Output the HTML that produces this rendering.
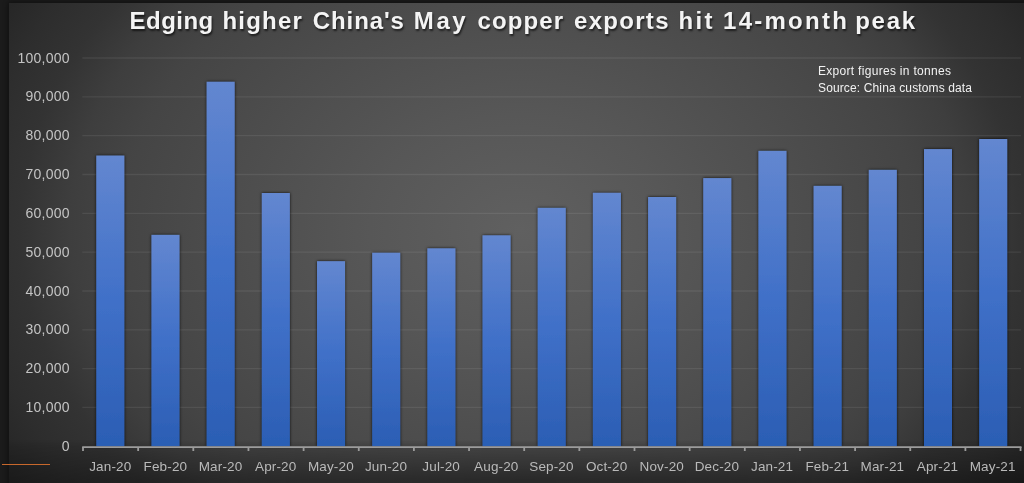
<!DOCTYPE html>
<html><head><meta charset="utf-8"><style>
html,body{margin:0;padding:0;width:1024px;height:483px;overflow:hidden;background:#1b1b1b;}
#chart{position:absolute;left:9px;top:3px;width:1040px;height:500px;
background:radial-gradient(700px 538px at 511px 227px,rgb(96,96,96) 0%,rgb(87,87,87) 21.4%,rgb(76,76,76) 42.9%,rgb(68.5,68.5,68.5) 57.1%,rgb(62,62,62) 64.3%,rgb(51,51,51) 71.4%,rgb(45,45,45) 78.6%,rgb(37,37,37) 85.7%,rgb(29,29,29) 100%);
box-shadow:0 0 5px 1px rgba(0,0,0,0.45);}
svg{position:absolute;left:0;top:0;will-change:transform;}
.g{stroke:rgba(255,255,255,0.075);stroke-width:1.3;}
.ax{stroke:#9c9c9c;stroke-width:1.8;fill:none;}
.yl{font:14px "Liberation Sans",sans-serif;letter-spacing:0.25px;fill:#c4c4c4;text-anchor:end;}
.xl{font:13.5px "Liberation Sans",sans-serif;letter-spacing:0.15px;fill:#bababa;text-anchor:middle;}
.title{will-change:transform;position:absolute;left:0;top:0;width:1024px;height:40px;font:bold 24px "Liberation Sans",sans-serif;color:#f4f4f4;text-shadow:1px 2px 2px rgba(0,0,0,0.6);white-space:nowrap;}
.title span{position:absolute;top:6.5px;transform-origin:0 0;}
.leg{will-change:transform;position:absolute;left:818px;font:12px "Liberation Sans",sans-serif;color:#f2f2f2;white-space:nowrap;}
#vig{position:absolute;left:9px;top:440px;width:1015px;height:43px;
background:linear-gradient(to right,rgba(0,0,0,0.26) 0px,rgba(0,0,0,0.26) 31px,rgba(0,0,0,0.32) 129px,rgba(0,0,0,0.39) 291px,rgba(0,0,0,0.44) 515px,rgba(0,0,0,0.40) 731px,rgba(0,0,0,0.36) 891px,rgba(0,0,0,0.33) 1015px);
-webkit-mask-image:linear-gradient(to bottom,rgba(0,0,0,0) 0px,rgba(0,0,0,0.3) 6px,rgba(0,0,0,0.5) 15px,#000 40px);mask-image:linear-gradient(to bottom,rgba(0,0,0,0) 0px,rgba(0,0,0,0.3) 6px,rgba(0,0,0,0.5) 15px,#000 40px);}
#wrap{position:absolute;left:0;top:0;width:1024px;height:483px;overflow:hidden;filter:blur(0.35px);}
#orange{position:absolute;left:2px;top:463.8px;width:47.5px;height:1.5px;background:#c8682c;}
</style></head><body>
<div id="wrap">
<div id="chart"></div>
<div id="vig"></div>
<svg width="1024" height="483" viewBox="0 0 1024 483">
<defs>
<linearGradient id="bg" x1="0" y1="0" x2="0" y2="1"><stop offset="0" stop-color="rgb(99,135,208)"/><stop offset="0.5" stop-color="rgb(64,112,200)"/><stop offset="1" stop-color="rgb(43,94,180)"/></linearGradient>
<filter id="sh" x="-20%" y="-5%" width="140%" height="110%"><feDropShadow dx="0" dy="0" stdDeviation="1.5" flood-color="#000" flood-opacity="0.85"/></filter>
</defs>
<line x1="82.3" y1="407.47" x2="1021" y2="407.47" class="g"/>
<line x1="82.3" y1="368.64" x2="1021" y2="368.64" class="g"/>
<line x1="82.3" y1="329.81" x2="1021" y2="329.81" class="g"/>
<line x1="82.3" y1="290.98" x2="1021" y2="290.98" class="g"/>
<line x1="82.3" y1="252.15" x2="1021" y2="252.15" class="g"/>
<line x1="82.3" y1="213.32" x2="1021" y2="213.32" class="g"/>
<line x1="82.3" y1="174.49" x2="1021" y2="174.49" class="g"/>
<line x1="82.3" y1="135.66" x2="1021" y2="135.66" class="g"/>
<line x1="82.3" y1="96.83" x2="1021" y2="96.83" class="g"/>
<line x1="82.3" y1="58.00" x2="1021" y2="58.00" class="g"/>
<rect x="96.30" y="155.60" width="28.0" height="290.70" fill="url(#bg)" filter="url(#sh)"/>
<rect x="151.48" y="234.90" width="28.0" height="211.40" fill="url(#bg)" filter="url(#sh)"/>
<rect x="206.66" y="81.80" width="28.0" height="364.50" fill="url(#bg)" filter="url(#sh)"/>
<rect x="261.84" y="193.00" width="28.0" height="253.30" fill="url(#bg)" filter="url(#sh)"/>
<rect x="317.02" y="261.20" width="28.0" height="185.10" fill="url(#bg)" filter="url(#sh)"/>
<rect x="372.20" y="252.80" width="28.0" height="193.50" fill="url(#bg)" filter="url(#sh)"/>
<rect x="427.38" y="248.35" width="28.0" height="197.95" fill="url(#bg)" filter="url(#sh)"/>
<rect x="482.56" y="235.35" width="28.0" height="210.95" fill="url(#bg)" filter="url(#sh)"/>
<rect x="537.74" y="207.90" width="28.0" height="238.40" fill="url(#bg)" filter="url(#sh)"/>
<rect x="592.92" y="192.85" width="28.0" height="253.45" fill="url(#bg)" filter="url(#sh)"/>
<rect x="648.10" y="197.00" width="28.0" height="249.30" fill="url(#bg)" filter="url(#sh)"/>
<rect x="703.28" y="178.10" width="28.0" height="268.20" fill="url(#bg)" filter="url(#sh)"/>
<rect x="758.46" y="150.90" width="28.0" height="295.40" fill="url(#bg)" filter="url(#sh)"/>
<rect x="813.64" y="185.90" width="28.0" height="260.40" fill="url(#bg)" filter="url(#sh)"/>
<rect x="868.82" y="169.90" width="28.0" height="276.40" fill="url(#bg)" filter="url(#sh)"/>
<rect x="924.00" y="149.10" width="28.0" height="297.20" fill="url(#bg)" filter="url(#sh)"/>
<rect x="979.18" y="139.00" width="28.0" height="307.30" fill="url(#bg)" filter="url(#sh)"/>
<line x1="82.2" y1="447.05" x2="1021.5" y2="447.05" class="ax"/>
<line x1="83.00" y1="447.05" x2="83.00" y2="451" class="ax"/>
<line x1="138.15" y1="447.05" x2="138.15" y2="451" class="ax"/>
<line x1="193.30" y1="447.05" x2="193.30" y2="451" class="ax"/>
<line x1="248.45" y1="447.05" x2="248.45" y2="451" class="ax"/>
<line x1="303.60" y1="447.05" x2="303.60" y2="451" class="ax"/>
<line x1="358.75" y1="447.05" x2="358.75" y2="451" class="ax"/>
<line x1="413.90" y1="447.05" x2="413.90" y2="451" class="ax"/>
<line x1="469.05" y1="447.05" x2="469.05" y2="451" class="ax"/>
<line x1="524.20" y1="447.05" x2="524.20" y2="451" class="ax"/>
<line x1="579.35" y1="447.05" x2="579.35" y2="451" class="ax"/>
<line x1="634.50" y1="447.05" x2="634.50" y2="451" class="ax"/>
<line x1="689.65" y1="447.05" x2="689.65" y2="451" class="ax"/>
<line x1="744.80" y1="447.05" x2="744.80" y2="451" class="ax"/>
<line x1="799.95" y1="447.05" x2="799.95" y2="451" class="ax"/>
<line x1="855.10" y1="447.05" x2="855.10" y2="451" class="ax"/>
<line x1="910.25" y1="447.05" x2="910.25" y2="451" class="ax"/>
<line x1="965.40" y1="447.05" x2="965.40" y2="451" class="ax"/>
<line x1="1020.55" y1="447.05" x2="1020.55" y2="451" class="ax"/>
<text x="69.8" y="450.90" class="yl">0</text>
<text x="69.8" y="412.07" class="yl">10,000</text>
<text x="69.8" y="373.24" class="yl">20,000</text>
<text x="69.8" y="334.41" class="yl">30,000</text>
<text x="69.8" y="295.58" class="yl">40,000</text>
<text x="69.8" y="256.75" class="yl">50,000</text>
<text x="69.8" y="217.92" class="yl">60,000</text>
<text x="69.8" y="179.09" class="yl">70,000</text>
<text x="69.8" y="140.26" class="yl">80,000</text>
<text x="69.8" y="101.43" class="yl">90,000</text>
<text x="69.8" y="62.60" class="yl">100,000</text>
<text x="110.28" y="470.7" class="xl">Jan-20</text>
<text x="165.42" y="470.7" class="xl">Feb-20</text>
<text x="220.57" y="470.7" class="xl">Mar-20</text>
<text x="275.72" y="470.7" class="xl">Apr-20</text>
<text x="330.88" y="470.7" class="xl">May-20</text>
<text x="386.02" y="470.7" class="xl">Jun-20</text>
<text x="441.17" y="470.7" class="xl">Jul-20</text>
<text x="496.32" y="470.7" class="xl">Aug-20</text>
<text x="551.48" y="470.7" class="xl">Sep-20</text>
<text x="606.62" y="470.7" class="xl">Oct-20</text>
<text x="661.78" y="470.7" class="xl">Nov-20</text>
<text x="716.93" y="470.7" class="xl">Dec-20</text>
<text x="772.08" y="470.7" class="xl">Jan-21</text>
<text x="827.23" y="470.7" class="xl">Feb-21</text>
<text x="882.38" y="470.7" class="xl">Mar-21</text>
<text x="937.53" y="470.7" class="xl">Apr-21</text>
<text x="992.68" y="470.7" class="xl">May-21</text>
</svg>
<div class="title"><span style="left:129.60px;letter-spacing:0.460px">Edging</span> <span style="left:222.50px;letter-spacing:1.200px">higher</span> <span style="left:312.80px;letter-spacing:0.900px">China's</span> <span style="left:413.80px;letter-spacing:2.600px">May</span> <span style="left:477.50px;letter-spacing:1.100px">copper</span> <span style="left:574.10px;letter-spacing:1.283px">exports</span> <span style="left:678.50px;letter-spacing:2.350px">hit</span> <span style="left:723.10px;letter-spacing:2.243px">14-month</span> <span style="left:855.20px;letter-spacing:1.733px">peak</span></div>
<div class="leg" style="top:63.5px;letter-spacing:0.3px">Export figures in tonnes</div>
<div class="leg" style="top:81.2px;letter-spacing:0.13px">Source: China customs data</div>
</div>
<div id="orange"></div>
</body></html>
